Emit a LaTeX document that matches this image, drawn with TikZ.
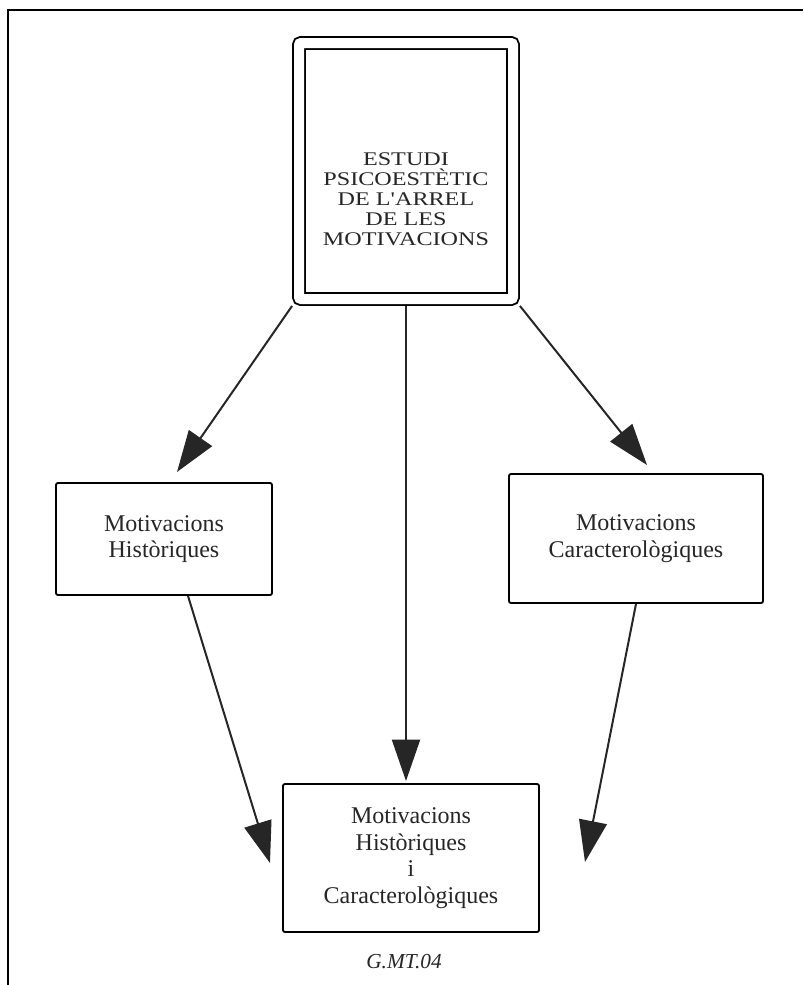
\documentclass[tikz,border=0pt]{standalone}
\usepackage{fontspec}
\setmainfont{Liberation Serif}
\newfontfamily\widefont[FakeStretch=1.25]{Liberation Serif}
\usepackage{tikz}
\usetikzlibrary{arrows.meta}

\begin{document}
\begin{tikzpicture}[x=0.75pt,y=-0.75pt,>={Triangle[length=31pt,width=21pt]},line width=1.4pt]
  \tikzstyle{box}=[rectangle,draw,rounded corners=1.5pt,align=center,inner sep=0pt,
    text=black!85,font=\fontsize{18}{20}\selectfont]
  \tikzstyle{link}=[->,line width=1.5pt,black!85]

  \useasboundingbox (0,0) rectangle (803,985);
  \draw[line width=1.6pt] (803,10) -- (8,10) -- (8,985);

  \node[box,double,double distance=7.5pt,outer sep=5.2pt,minimum width=160.5pt,
    minimum height=192pt] (arrel) at (406,171) {};
  \node[align=center,text=black!85,font=\widefont\fontsize{14.5}{15}\selectfont]
    (arreltext) at (406,199)
    {ESTUDI\\PSICOESTÈTIC\\DE L'ARREL\\DE LES\\MOTIVACIONS};
  \node[box,minimum width=162pt,minimum height=84pt] (hist) at (164,539)
    {Motivacions\\Històriques};
  \node[box,minimum width=190.5pt,minimum height=96.75pt] (caract) at (636,538.5)
    {Motivacions\\Caracterològiques};
  \node[box,minimum width=192pt,minimum height=111pt] (ambdues) at (411,858)
    {Motivacions\\Històriques\\i\\Caracterològiques};
  \node[text=black!85,font=\itshape\fontsize{16}{18}\selectfont] (codi) at (404,962) {G.MT.04};

  \coordinate (tipH) at (177,472);
  \coordinate (tipC) at (647,465);
  \coordinate (tipM) at (406,781);
  \coordinate (tipA) at (270,863);
  \coordinate (tipB) at (585,862);

  \draw[link] (arrel.south west) -- (tipH);
  \draw[link] (arrel.south) -- (tipM);
  \draw[link] (arrel.south east) -- (tipC);
  \draw[link] ([xshift=18pt]hist.south) -- (tipA);
  \draw[link] (caract.south) -- (tipB);
\end{tikzpicture}
\end{document}
